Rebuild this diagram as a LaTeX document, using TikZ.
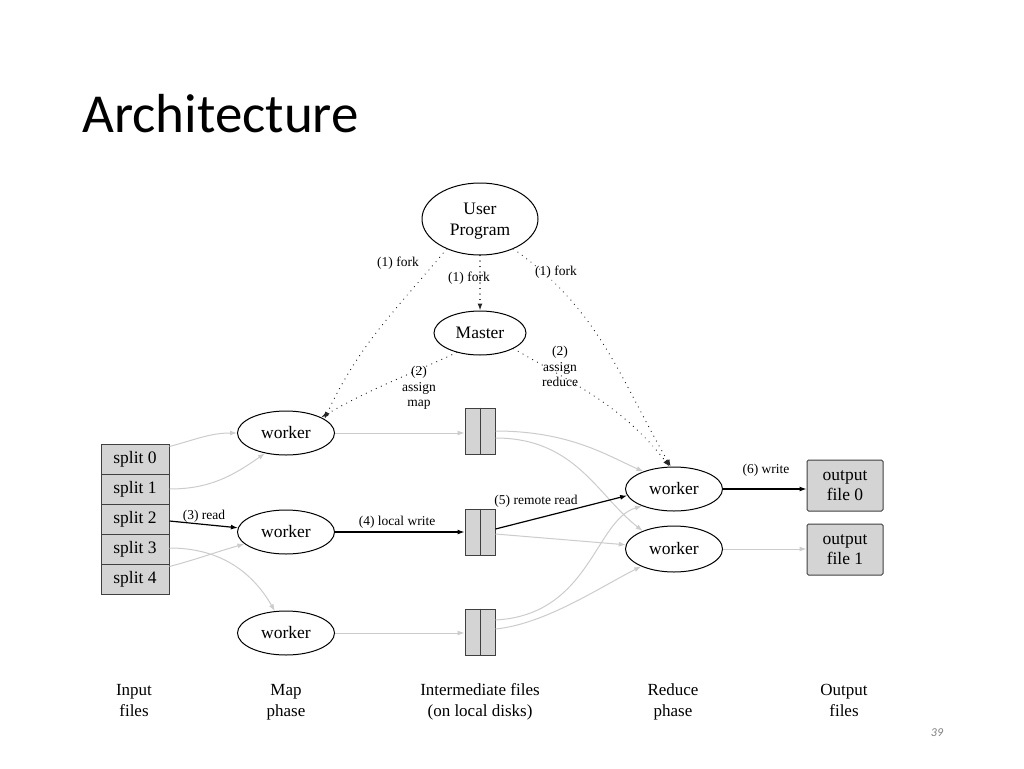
\documentclass[tikz,border=0pt]{standalone}
\usepackage{fontspec}
\setmainfont{Liberation Serif}
\newfontfamily\titlefont{Carlito}
\usetikzlibrary{shapes.geometric,arrows.meta}
\begin{document}
\begin{tikzpicture}[x=1pt,y=-1pt,
  ell/.style={ellipse,draw,line width=1pt,inner sep=0pt,align=center,font=\fontsize{17.5}{21}\selectfont},
  box/.style={rectangle,draw=black!75,fill=black!17,line width=1pt,inner sep=0pt,align=center,font=\fontsize{17.5}{20}\selectfont},
  lbl/.style={inner sep=0pt,align=center,text depth=3pt,font=\fontsize{13.5}{15.5}\selectfont},
  phase/.style={inner sep=0pt,align=center,text depth=5pt,font=\fontsize{17}{21}\selectfont},
  garr/.style={draw=black!20,line width=1pt,-{Latex[length=7pt,width=5pt]}},
  barr/.style={draw=black,line width=1.2pt,-{Latex[length=7pt,width=5pt]}},
  darr/.style={draw=black!85,line width=1.3pt,dash pattern=on 0.01pt off 5.5pt,line cap=round,-{Latex[length=7pt,width=5pt]}},
]
\useasboundingbox[fill=white] (0,0) rectangle (1024,768);

% title and page number
\node[anchor=base west,inner sep=0pt,font=\titlefont\fontsize{55}{60}\selectfont] (title) at (82,132) {Architecture};
\node[inner sep=0pt,text=black!50,font=\titlefont\itshape\fontsize{12}{14}\selectfont] (pg) at (937,733) {39};

% nodes
\node[ell,text depth=0pt,minimum width=116pt,minimum height=72pt] (UP) at (480,219) {User\\Program};
\node[ell,minimum width=92pt,minimum height=44pt] (M) at (480,333) {Master};

\node[box,minimum width=68pt,minimum height=30pt] (s0) at (135,459) {split 0};
\node[box,minimum width=68pt,minimum height=30pt] (s1) at (135,489) {split 1};
\node[box,minimum width=68pt,minimum height=30pt] (s2) at (135,519) {split 2};
\node[box,minimum width=68pt,minimum height=30pt] (s3) at (135,549) {split 3};
\node[box,minimum width=68pt,minimum height=30pt] (s4) at (135,579) {split 4};

\node[ell,minimum width=97pt,minimum height=44pt] (m1) at (286,433) {worker};
\node[ell,minimum width=97pt,minimum height=44pt] (m2) at (286,532) {worker};
\node[ell,minimum width=97pt,minimum height=44pt] (m3) at (286,633) {worker};

\node[box,minimum width=30pt,minimum height=46pt] (f1) at (480,431) {};
\node[box,minimum width=30pt,minimum height=46pt] (f2) at (480,532) {};
\node[box,minimum width=30pt,minimum height=46pt] (f3) at (480,632) {};
\foreach \f in {f1,f2,f3}{\draw[draw=black!75,line width=1pt] (\f.north) -- (\f.south);}

\node[ell,minimum width=97pt,minimum height=44pt] (r1) at (674,489) {worker};
\node[ell,minimum width=97pt,minimum height=46pt] (r2) at (674,549) {worker};

\node[box,rounded corners=1.5pt,minimum width=76pt,minimum height=51pt] (o0) at (845,485.5) {output\\file 0};
\node[box,rounded corners=1.5pt,minimum width=76pt,minimum height=51pt] (o1) at (845,549.5) {output\\file 1};

% phase labels
\node[phase] (p1) at (134,703) {Input\\files};
\node[phase] (p2) at (286,703) {Map\\phase};
\node[phase] (p3) at (480,703) {Intermediate files\\(on local disks)};
\node[phase] (p4) at (673,703) {Reduce\\phase};
\node[phase] (p5) at (844,703) {Output\\files};

% dotted control arrows
\draw[darr] (UP.222) to[out=230,in=65] (m1.20);
\draw[darr] (UP.south) -- (M.north);
\draw[darr] (UP.318) to[out=-35,in=120] (r1.98);
\draw[darr] (M.220) to[out=205,in=30] (m1.24);
\draw[darr] (M.335) to[out=-30,in=128] (r1.101);

\node[lbl] (l1a) at (398,263) {(1) fork};
\node[lbl] (l1b) at (469,278) {(1) fork};
\node[lbl] (l1c) at (556,272) {(1) fork};
\node[lbl] (l2a) at (419,388) {(2)\\assign\\map};
\node[lbl] (l2b) at (560,368) {(2)\\assign\\reduce};

% input splits to map workers
\draw[garr] ([yshift=-3pt]s0.north east) to[out=15,in=180] (m1.west);
\draw[garr] (s1.east) to[out=0,in=215] (m1.224);
\draw[barr] ([yshift=-2pt]s2.east) -- (m2.175);
\draw[garr] ([yshift=1pt]s3.east) to[out=0,in=120] (m3.117);
\draw[garr] ([yshift=-3pt]s4.north east) to[out=15,in=196] (m2.196);
\node[lbl] (l3) at (204,516) {(3) read};

% map workers to intermediate files
\draw[garr] (m1.east) -- (m1.east -| f1.west);
\draw[barr] (m2.east) -- (m2.east -| f2.west);
\draw[garr] (m3.east) -- (m3.east -| f3.west);
\node[lbl] (l4) at (397,522) {(4) local write};

% intermediate files to reduce workers
\draw[garr] (f1.east) .. controls +(75,0) and +(-35,-15) .. (r1.150);
\draw[garr] ([yshift=-7pt]f1.east) .. controls +(80,0) and +(-45,-35) .. (r2.150);
\draw[barr] ([yshift=3pt]f2.east) -- (r1.188);
\draw[garr] ([yshift=-2pt]f2.east) -- (r2.175);
\draw[garr] ([yshift=12pt]f3.east) .. controls (590,615) and (595,520) .. (r1.208);
\draw[garr] ([yshift=3pt]f3.east) .. controls +(50,-5) and +(-40,20) .. (r2.208);
\node[lbl] (l5) at (536,501) {(5) remote read};

% reduce workers to output files
\draw[barr] (r1.east) -- (r1.east -| o0.west);
\draw[garr] (r2.east) -- (r2.east -| o1.west);
\node[lbl] (l6) at (766,470) {(6) write};
\end{tikzpicture}
\end{document}
